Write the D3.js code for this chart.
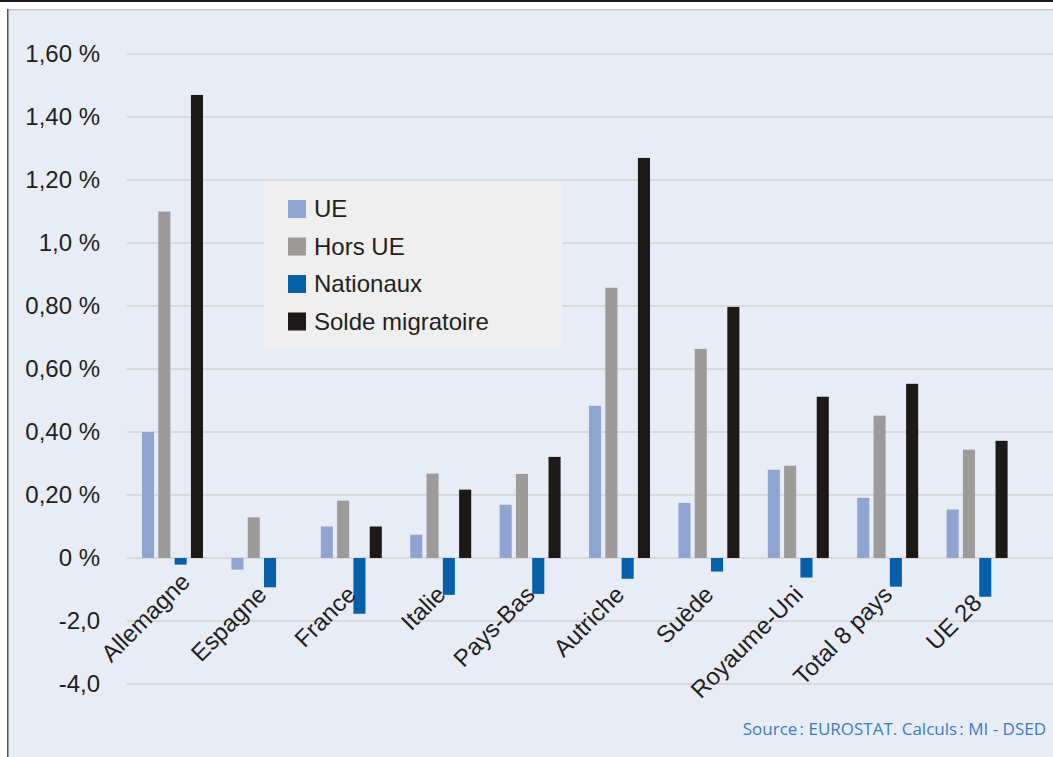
<!DOCTYPE html>
<html>
<head>
<meta charset="utf-8">
<script src="https://cdn.jsdelivr.net/npm/d3@7"></script>
<style>
  html, body { margin: 0; padding: 0; background: #ffffff; }
  svg { display: block; }
</style>
</head>
<body>
<div id="chart"></div>
<script>
// chart data
const categories = ['Allemagne', 'Espagne', 'France', 'Italie', 'Pays-Bas', 'Autriche', 'Suède', 'Royaume-Uni', 'Total 8 pays', 'UE 28'];
const seriesNames = ['UE', 'Hors UE', 'Nationaux', 'Solde migratoire'];
const ueValues        = [0.40, -0.037, 0.10, 0.074, 0.169, 0.483, 0.175, 0.28, 0.191, 0.154];
const horsUeValues    = [1.10, 0.129, 0.182, 0.268, 0.267, 0.858, 0.664, 0.293, 0.452, 0.344];
const nationauxValues = [-0.021, -0.093, -0.177, -0.117, -0.114, -0.066, -0.043, -0.062, -0.091, -0.123];
const soldeValues     = [1.47, 0, 0.10, 0.217, 0.321, 1.27, 0.797, 0.512, 0.553, 0.372];
const tickValues = [-0.4, -0.2, 0, 0.2, 0.4, 0.6, 0.8, 1.0, 1.2, 1.4, 1.6];
const tickLabels = ['-4,0', '-2,0', '0 %', '0,20 %', '0,40 %', '0,60 %', '0,80 %', '1,0 %', '1,20 %', '1,40 %', '1,60 %'];
const sourceText = 'Source\u202F: EUROSTAT. Calculs\u202F: MI - DSED';

const colors = ['#8fa5cf', '#9c9b99', '#0660a9', '#1d1917'];
const seriesValues = [ueValues, horsUeValues, nationauxValues, soldeValues];

const FONT = '"Liberation Sans", Arial, Helvetica, sans-serif';
const TXT = '#231f20';

const W = 1053, H = 757;
const svg = d3.select('#chart').append('svg')
    .attr('width', W)
    .attr('height', H);

// frame
svg.append('rect').attr('x', 0).attr('y', 0).attr('width', W).attr('height', 2).attr('fill', '#1d1917');
svg.append('rect').attr('x', 7).attr('y', 9).attr('width', W - 7).attr('height', H - 9).attr('fill', '#e8ecf7');
svg.append('rect').attr('x', 7).attr('y', 9).attr('width', W - 7).attr('height', 1.5).attr('fill', '#c9c9cc');
svg.append('rect').attr('x', 7).attr('y', 9).attr('width', 1.5).attr('height', H - 9).attr('fill', '#555555');

const plotLeft = 127, plotRight = 1021;

const y = d3.scaleLinear()
    .domain([-0.4, 1.6])
    .range([684, 54]);

const x0 = d3.scaleBand()
    .domain(categories)
    .range([plotLeft, plotRight]);

const bw = x0.bandwidth();
const x1 = d3.scaleBand()
    .domain(seriesNames)
    .range([bw * 0.168, bw * 0.85])
    .paddingInner(0.26);

// gridlines
svg.append('g')
    .selectAll('line')
    .data(tickValues)
    .enter().append('line')
    .attr('x1', plotLeft)
    .attr('x2', W)
    .attr('y1', d => y(d))
    .attr('y2', d => y(d))
    .attr('stroke', '#d9d9dc')
    .attr('stroke-width', 2);

// y axis labels
const yAxis = d3.axisLeft(y)
    .tickValues(tickValues)
    .tickFormat((d, i) => tickLabels[i])
    .tickSize(0)
    .tickPadding(0);

svg.append('g')
    .attr('transform', 'translate(100,0)')
    .call(yAxis)
    .call(g => g.select('.domain').remove())
    .call(g => g.selectAll('text')
        .attr('font-family', FONT)
        .attr('font-size', 24)
        .attr('fill', TXT));

// bars
const groups = svg.append('g')
    .selectAll('g')
    .data(categories)
    .enter().append('g')
    .attr('transform', d => `translate(${x0(d)},0)`);

groups.selectAll('rect')
    .data((c, ci) => seriesNames.map((s, si) => ({ s, si, v: seriesValues[si][ci] })))
    .enter().append('rect')
    .attr('x', d => x1(d.s))
    .attr('width', x1.bandwidth())
    .attr('y', d => y(Math.max(0, d.v)))
    .attr('height', d => Math.abs(y(d.v) - y(0)))
    .attr('fill', d => colors[d.si]);

// category labels, rotated, ending under each group
// (first one a bit higher, last one a bit lower, as in the original)
const last = categories.length - 1;
const xAxis = d3.axisBottom(x0).tickSize(0).tickPadding(0);
svg.append('g')
    .attr('transform', `translate(0,${y(0)})`)
    .call(xAxis)
    .call(g => g.select('.domain').remove())
    .call(g => g.selectAll('text')
        .attr('font-family', FONT)
        .attr('font-size', 24)
        .attr('fill', TXT)
        .attr('text-anchor', 'end')
        .attr('y', 0)
        .attr('dx', (d, i) => i === 0 ? 18 : i === last ? -6 : 0)
        .attr('dy', (d, i) => i === last ? 14.4 : 8.4)
        .attr('transform', 'translate(1,32) rotate(-45)'));

// legend
const legend = svg.append('g');
legend.append('rect')
    .attr('x', 264).attr('y', 181)
    .attr('width', 298).attr('height', 168)
    .attr('fill', '#efefef');

const rowY = d3.scalePoint().domain(seriesNames).range([209, 321.5]);
const items = legend.selectAll('g.item')
    .data(seriesNames)
    .enter().append('g')
    .attr('class', 'item')
    .attr('transform', d => `translate(288,${rowY(d)})`);
items.append('rect')
    .attr('x', 0).attr('y', -9)
    .attr('width', 18).attr('height', 18)
    .attr('fill', (d, i) => colors[i]);
items.append('text')
    .attr('x', 26)
    .attr('dy', '0.35em')
    .attr('font-family', FONT)
    .attr('font-size', 24)
    .attr('fill', TXT)
    .text(d => d);

// source
svg.append('text')
    .attr('x', 1046)
    .attr('y', 735)
    .attr('text-anchor', 'end')
    .attr('font-family', '"Open Sans", "Noto Sans", sans-serif')
    .attr('font-size', 17)
    .attr('fill', '#3a7dc1')
    .text(sourceText);
</script>
</body>
</html>
